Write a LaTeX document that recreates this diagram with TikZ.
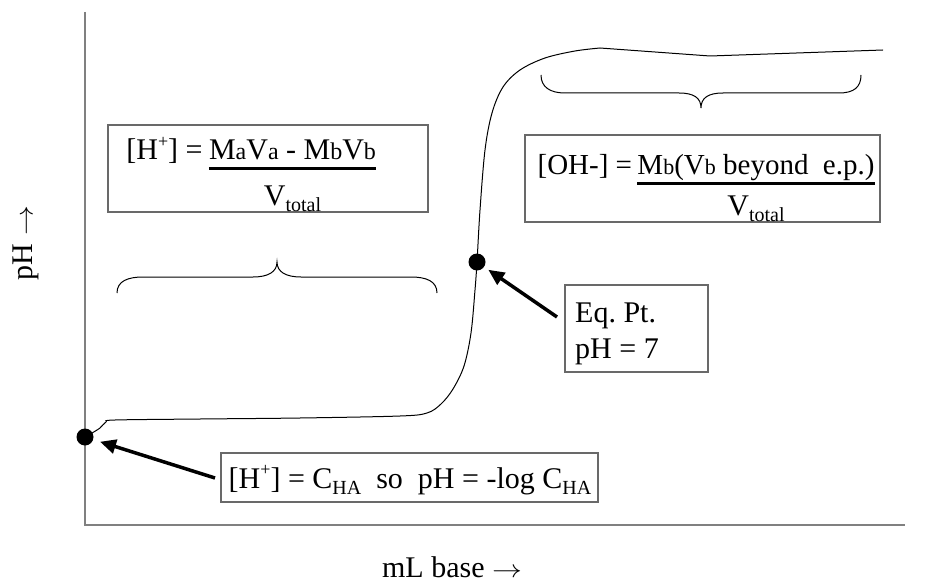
\documentclass[tikz,border=0pt]{standalone}
\usepackage{fontspec}
\setmainfont{Liberation Serif}
\usetikzlibrary{arrows.meta}
\definecolor{boxgray}{RGB}{105,105,105}
\definecolor{axisgray}{RGB}{128,128,128}
\newcommand\subsc[1]{\raisebox{-0.22em}{\fontsize{20}{20}\selectfont #1}}
\newcommand\supsc[1]{\raisebox{0.42em}{\fontsize{18}{18}\selectfont #1}}
\newcommand\smlet[1]{{\fontsize{24}{24}\selectfont #1}}
\newcommand\smletb[1]{{\fontsize{22}{22}\selectfont #1}}
\newcommand\rarr{\scalebox{1.2}[1]{$\rightarrow$}}
\frenchspacing
\begin{document}
\begin{tikzpicture}[x=1pt,y=-1pt,
  txt/.style={font=\fontsize{30}{35}\selectfont, inner sep=0pt},
  txtb/.style={font=\fontsize{29}{34}\selectfont, inner sep=0pt},
  box/.style={draw=boxgray, line width=1.3pt, inner sep=0pt},
  axisline/.style={draw=axisgray, line width=2pt},
  thinline/.style={draw=black, line width=1pt},
  arr/.style={line width=3.5pt, -{Triangle[length=16pt,width=14pt]}},
  dotn/.style={circle, fill=black, minimum size=17pt, inner sep=0pt},
  bar/.style={line width=3pt}]
\useasboundingbox (0,0) rectangle (937,583);
% axes
\coordinate (ytop) at (85,12);
\coordinate (orig) at (85,525);
\coordinate (xend) at (905,525);
\draw[axisline] (ytop) -- (orig) -- (xend);
\node[txt, rotate=90] (ylab) at (26,243) {pH \rarr};
\node[txt] (xlab) at (452,567) {mL base \rarr};
% titration curve
\draw[thinline] plot[smooth, tension=0.55] coordinates {(92,433) (100,428) (106,422) (115,420) (200,419) (300,418) (400,416) (427,413) (441,404) (453,389) (464,366) (471,333) (475,290) (477,262) (480,210) (485,150) (492,113) (503,87) (520,70) (545,58) (575,51) (600,48)} -- (710,56) -- (883,50);
% dots
\node[dotn] (dot1) at (85,437) {};
\node[dotn] (dot2) at (477,262) {};
% braces
\draw[thinline] (117,293) .. controls (117,281) and (128,277) .. (143,277) -- (253,277) .. controls (268,277) and (277,272) .. (277,262) .. controls (277,272) and (286,277) .. (301,277) -- (411,277) .. controls (426,277) and (437,281) .. (437,293);
\draw[thinline] (541,75) .. controls (541,87) and (550,93) .. (565,93) -- (679,93) .. controls (694,93) and (701,98) .. (701,108) .. controls (701,98) and (708,93) .. (723,93) -- (839,93) .. controls (854,93) and (861,87) .. (861,75);
% box 1
\node[box, minimum width=320pt, minimum height=87pt] (hbox) at (268,168.5) {};
\node[txt, anchor=base] (num1) at (292.5,160) {M\smlet{a}V\smlet{a} - M\smlet{b}V\smlet{b}};
\draw[bar] ([yshift=-8pt]num1.base west) -- ([yshift=-8pt]num1.base east);
\node[txt, anchor=base east] (lhs1) at ([xshift=-6pt]num1.base west) {[H\supsc{+}] =};
\node[txt, anchor=base] (den1) at ([yshift=-45pt]num1.base) {V\subsc{total}};
% box 2
\node[box, minimum width=355pt, minimum height=87pt] (ohbox) at (702.5,178.5) {};
\node[txtb, anchor=base] (num2) at (756,175) {M\smletb{b}(V\smletb{b} beyond\ \ e.p.)};
\draw[bar] ([yshift=-8pt]num2.base west) -- ([yshift=-8pt]num2.base east);
\node[txtb, anchor=base east] (lhs2) at ([xshift=-5pt]num2.base west) {[OH-] =};
\node[txt, anchor=base] (den2) at ([yshift=-40pt]num2.base) {V\subsc{total}};
% eq box
\node[box, minimum width=143pt, minimum height=87pt] (eqbox) at (636.5,328.5) {};
\node[txt, anchor=base west] (eq1) at (575,322) {Eq. Pt.};
\node[txt, anchor=base west] (eq2) at (575,358) {pH = 7};
% bottom box
\node[box, minimum width=377pt, minimum height=49pt] (cbox) at (409.5,477.5) {};
\node[txt, anchor=base] (ctext) at (410,488) {[H\supsc{+}] = C\subsc{HA}\ \ so\ \ pH = -log C\subsc{HA}};
% arrows
\coordinate (tail1) at (215,478);
\coordinate (tail2) at (557,317);
\draw[arr, shorten >=7pt] (tail1) -- (dot1);
\draw[arr, shorten >=5pt] (tail2) -- (dot2);
\end{tikzpicture}
\end{document}
